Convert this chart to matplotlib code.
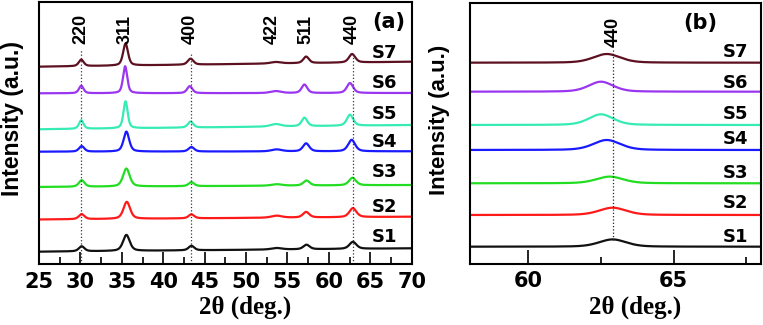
import numpy as np
import matplotlib
matplotlib.use("Agg")
import matplotlib.pyplot as plt
from matplotlib.ticker import MultipleLocator, FixedLocator

# ---------------- data ----------------
samples = ["S1", "S2", "S3", "S4", "S5", "S6", "S7"]
colors = ["#111111", "#ff1a1a", "#22dd22", "#1a1aff", "#36ecb4", "#9a36f0", "#5c1020"]

hkl_labels = ["220", "311", "400", "422", "511", "440"]
hkl_pos = [30.1, 35.45, 43.3, 53.2, 57.2, 62.85]
dotted_a = [30.1, 43.35, 62.9]
dotted_a_top = [214, 212, 211]

# peak centres per sample (S1..S7)
c220 = [30.15, 30.15, 30.15, 30.15, 30.1, 30.1, 30.1]
c311 = [35.55, 35.6, 35.55, 35.55, 35.45, 35.4, 35.45]
c400 = [43.4, 43.4, 43.4, 43.4, 43.3, 43.2, 43.3]
c422 = [53.7, 53.7, 53.7, 53.7, 53.6, 53.6, 53.6]
c511 = [57.3, 57.25, 57.3, 57.25, 57.05, 57.05, 57.25]
c440 = [62.9, 62.9, 62.85, 62.75, 62.55, 62.55, 62.8]
# peak heights per sample
h220 = [5.0, 5.0, 6.5, 5.5, 8.5, 7.5, 6.5]
h311 = [16, 17, 18, 20, 27, 27, 22]
h400 = [4.5, 4.0, 4.0, 4.5, 6.0, 7.0, 6.0]
h422 = [1.5, 2.0, 1.5, 2.0, 2.5, 2.0, 1.5]
h511 = [4.5, 5.5, 5.0, 8.0, 8.5, 8.5, 6.5]
h440 = [7.0, 9.0, 7.5, 11.5, 11.0, 10.0, 8.5]
# widths (FWHM, deg)
w220 = [0.8, 0.8, 0.8, 0.75, 0.65, 0.65, 0.7]
w311 = [0.95, 0.95, 0.95, 0.8, 0.6, 0.6, 0.7]
w400 = [0.8, 0.8, 0.8, 0.8, 0.75, 0.75, 0.8]
w422 = [1.5] * 7
w511 = [0.9, 0.9, 0.9, 0.9, 0.8, 0.8, 0.8]
w440 = [1.0, 1.0, 1.0, 1.0, 0.9, 0.9, 0.9]
# baselines (offsets) at 25 deg and 70 deg
base_left = [12.6, 44.8, 77.3, 112.6, 135.0, 171.0, 197.6]
base_right = [16.0, 47.6, 79.3, 113.0, 139.3, 171.3, 202.6]

# panel (b): 440 region
b_base = [16.8, 48.5, 80.2, 113.5, 138.5, 171.8, 200.8]
b_cen = [62.9, 62.9, 62.8, 62.7, 62.5, 62.5, 62.7]
b_h = [7.3, 7.3, 6.7, 10.0, 10.7, 10.0, 8.7]
b_w = [1.1, 1.1, 1.1, 1.1, 1.0, 1.0, 1.1]

# label positions (data units)
lab_a_y = [27.6, 57.8, 92.6, 122.6, 150.3, 181.3, 211.3]
lab_b_y = [26.8, 60.0, 90.2, 124.5, 149.5, 180.5, 211.5]


def pv(x, c, h, w, eta=0.5):
    g = (x - c) / (w / 2.0)
    return h * (eta / (1 + g ** 2) + (1 - eta) * np.exp(-np.log(2) * g ** 2))


fig = plt.figure(figsize=(7.63, 3.25), dpi=100)
sans = ["Liberation Sans", "DejaVu Sans"]
heavy = ["DejaVu Sans"]
serif = ["Liberation Serif", "DejaVu Serif"]

# ---------------- panel (a) ----------------
axa = fig.add_axes([39 / 763, 1 - 264.3 / 325, (411.7 - 39) / 763, (264.3 - 2) / 325])
x = np.linspace(25, 70, 2000)
for i in range(7):
    y = base_left[i] + (base_right[i] - base_left[i]) * (x - 25) / 45.0
    for c, h, w in [(c220, h220, w220), (c311, h311, w311), (c400, h400, w400),
                    (c422, h422, w422), (c511, h511, w511), (c440, h440, w440)]:
        y = y + pv(x, c[i], h[i], w[i])
    axa.plot(x, y, color=colors[i], lw=1.6)
    axa.text(66.7, lab_a_y[i], samples[i], ha="center", va="center",
             fontsize=13, fontweight="bold", family=heavy)
for xp, top in zip(dotted_a, dotted_a_top):
    axa.plot([xp, xp], [0, top], ls=":", color="#333344", lw=0.9)
for lab, xp in zip(hkl_labels, hkl_pos):
    axa.text(xp, 220, lab, rotation=90, ha="center", va="bottom",
             fontsize=13, fontweight="bold", family=sans)
axa.text(67.2, 242, "(a)", ha="center", va="center", fontsize=15,
         fontweight="bold", family=heavy)
axa.set_xlim(25, 70)
axa.set_ylim(0, 262.3)
axa.xaxis.set_major_locator(MultipleLocator(5))
axa.xaxis.set_minor_locator(MultipleLocator(2.5))
axa.set_yticks([])

# ---------------- panel (b) ----------------
axb = fig.add_axes([470 / 763, 1 - 263.5 / 325, (761 - 470) / 763, (263.5 - 2.5) / 325])
xb = np.linspace(58, 68, 1500)
for i in range(7):
    yb = b_base[i] + pv(xb, b_cen[i], b_h[i], b_w[i], eta=0.35)
    axb.plot(xb, yb, color=colors[i], lw=1.6)
    axb.text(67.12, lab_b_y[i], samples[i], ha="center", va="center",
             fontsize=13, fontweight="bold", family=heavy)
axb.plot([62.93, 62.93], [23.5, 213.5], ls=":", color="#222222", lw=0.9)
axb.text(62.93, 216.5, "440", rotation=90, ha="center", va="bottom",
         fontsize=13, fontweight="bold", family=sans)
axb.text(65.92, 240.5, "(b)", ha="center", va="center", fontsize=15,
         fontweight="bold", family=heavy)
axb.set_xlim(58, 68)
axb.set_ylim(0, 261)
axb.xaxis.set_major_locator(FixedLocator([60, 65]))
axb.xaxis.set_minor_locator(FixedLocator([62.5, 67.5]))
axb.set_yticks([])

for ax, major_len in [(axa, 8.4), (axb, 10)]:
    for s in ax.spines.values():
        s.set_linewidth(1.5)
    ax.tick_params(axis="x", which="major", direction="in", length=major_len,
                   width=1.2, pad=5.5, labelsize=15)
    ax.tick_params(axis="x", which="minor", direction="in", length=5, width=1.2)
    for t in ax.get_xticklabels():
        t.set_fontweight("bold")
        t.set_family(heavy)

# axis titles
fig.text(13 / 763, 1 - 118 / 325, "Intensity (a.u.)", rotation=90, ha="center",
         va="center", fontsize=16.5, fontweight="bold", family=sans)
fig.text(440 / 763, 1 - 120 / 325, "Intensity (a.u.)", rotation=90, ha="center",
         va="center", fontsize=16, fontweight="bold", family=sans)
fig.text(245 / 763, 1 - 314 / 325, "2θ (deg.)", ha="center", va="baseline",
         fontsize=18, fontweight="bold", family=serif)
fig.text(635 / 763, 1 - 314 / 325, "2θ (deg.)", ha="center", va="baseline",
         fontsize=18, fontweight="bold", family=serif)

fig.savefig("out.png", dpi=100)
